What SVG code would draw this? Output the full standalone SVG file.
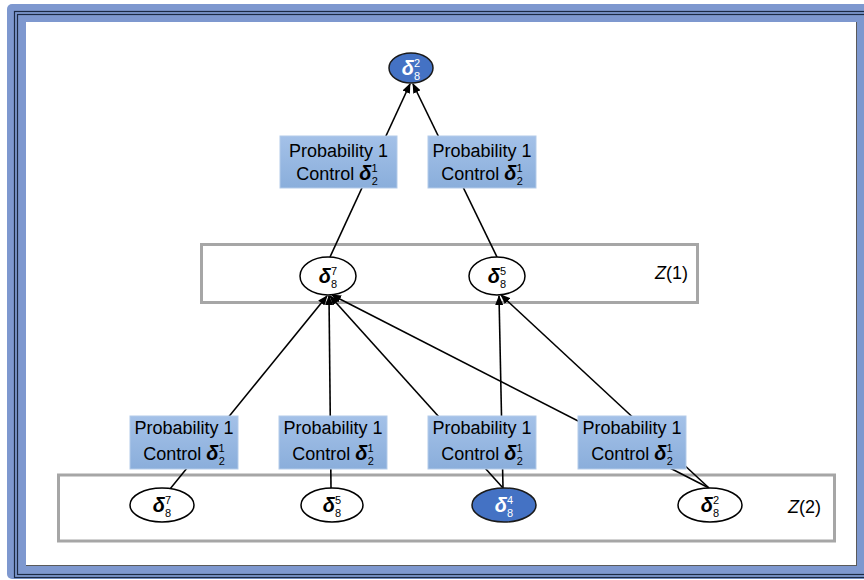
<svg xmlns="http://www.w3.org/2000/svg" width="864" height="580" viewBox="0 0 864 580">
<defs>
<linearGradient id="bg" x1="0" y1="0" x2="0" y2="1">
<stop offset="0" stop-color="#a4c1e8"/>
<stop offset="1" stop-color="#8aaedb"/>
</linearGradient>
<marker id="ah" markerWidth="10" markerHeight="8" refX="9" refY="4" orient="auto" markerUnits="userSpaceOnUse">
<path d="M0,0 L10,4 L0,8 Z" fill="#000"/>
</marker>
<style>
.zone{fill:none;stroke:#a6a6a6;stroke-width:3}
.box{fill:url(#bg);stroke:#b3cbe9;stroke-width:1}
.bt{font-family:"Liberation Sans",Arial,sans-serif;font-size:18px;fill:#000}
.d{font-weight:bold;font-style:italic;font-size:20px}
.s{font-size:11px}
.node{fill:#fff;stroke:#000;stroke-width:1.5}
.nodeb{fill:#4472c4;stroke:#1a1a1a;stroke-width:1.5}
.nt{font-family:"Liberation Sans",Arial,sans-serif;font-size:20px;fill:#000}
.ntw{fill:#fff}
.edge{stroke:#000;stroke-width:1.6;fill:none;marker-end:url(#ah)}
.zl{font-family:"Liberation Sans",Arial,sans-serif;font-size:18px;fill:#000}
</style>
</defs>
<!-- frame -->
<rect x="7" y="4" width="880" height="575" rx="5" fill="#7e98cf"/>
<rect x="14.5" y="11.5" width="880" height="566" fill="none" stroke="#1c2a44" stroke-width="1.2"/>
<rect x="17.5" y="14.5" width="880" height="560" fill="none" stroke="#1c2a44" stroke-width="1.2"/>
<rect x="26" y="22" width="831" height="544" fill="#5a5a5a"/>
<rect x="26" y="22" width="830" height="543" fill="#fff"/>
<!-- zones -->
<rect class="zone" x="201.5" y="244.5" width="496" height="58"/>
<rect class="zone" x="58.5" y="475" width="776" height="66"/>
<text class="zl" x="655" y="279"><tspan font-style="italic">Z</tspan>(1)</text>
<text class="zl" x="788" y="513"><tspan font-style="italic">Z</tspan>(2)</text>
<!-- connectors -->
<g id="connectors">
<line class="edge" x1="330" y1="257" x2="410" y2="84"/>
<line class="edge" x1="497" y1="257" x2="413" y2="84"/>
<line class="edge" x1="170" y1="489" x2="327" y2="296"/>
<line class="edge" x1="331" y1="488" x2="329" y2="296"/>
<line class="edge" x1="503" y1="488" x2="330" y2="296"/>
<line class="edge" x1="503" y1="488" x2="499" y2="296"/>
<line class="edge" x1="709" y1="488" x2="332" y2="295"/>
<line class="edge" x1="709" y1="488" x2="501" y2="295"/>
</g>
<!-- label boxes -->
<g id="lbl_t1">
<rect class="box" x="280" y="136" width="117" height="52"/>
<text class="bt" x="338.5" y="157" text-anchor="middle">Probability 1</text>
<text class="bt" x="337" y="180" text-anchor="middle">Control <tspan class="d">δ</tspan><tspan class="s" dy="-8">1</tspan><tspan class="s" dx="-6" dy="13">2</tspan></text>
</g>
<g id="lbl_t2">
<rect class="box" x="428" y="136" width="108" height="52"/>
<text class="bt" x="482" y="157" text-anchor="middle">Probability 1</text>
<text class="bt" x="482" y="180" text-anchor="middle">Control <tspan class="d">δ</tspan><tspan class="s" dy="-8">1</tspan><tspan class="s" dx="-6" dy="13">2</tspan></text>
</g>
<g id="lbl_b1">
<rect class="box" x="130" y="416" width="108" height="53"/>
<text class="bt" x="184" y="434" text-anchor="middle">Probability 1</text>
<text class="bt" x="184" y="460" text-anchor="middle">Control <tspan class="d">δ</tspan><tspan class="s" dy="-8">1</tspan><tspan class="s" dx="-6" dy="13">2</tspan></text>
</g>
<g id="lbl_b2">
<rect class="box" x="279" y="416" width="108" height="53"/>
<text class="bt" x="333" y="434" text-anchor="middle">Probability 1</text>
<text class="bt" x="333" y="460" text-anchor="middle">Control <tspan class="d">δ</tspan><tspan class="s" dy="-8">1</tspan><tspan class="s" dx="-6" dy="13">2</tspan></text>
</g>
<g id="lbl_b3">
<rect class="box" x="428" y="416" width="108" height="53"/>
<text class="bt" x="482" y="434" text-anchor="middle">Probability 1</text>
<text class="bt" x="482" y="460" text-anchor="middle">Control <tspan class="d">δ</tspan><tspan class="s" dy="-8">1</tspan><tspan class="s" dx="-6" dy="13">2</tspan></text>
</g>
<g id="lbl_b4">
<rect class="box" x="578" y="416" width="108" height="53"/>
<text class="bt" x="632" y="434" text-anchor="middle">Probability 1</text>
<text class="bt" x="632" y="460" text-anchor="middle">Control <tspan class="d">δ</tspan><tspan class="s" dy="-8">1</tspan><tspan class="s" dx="-6" dy="13">2</tspan></text>
</g>
<!-- nodes -->
<g id="n_top">
<ellipse class="nodeb" cx="411" cy="68" rx="22" ry="15"/>
<text class="nt ntw" x="411" y="75" text-anchor="middle"><tspan class="d">δ</tspan><tspan class="s" dy="-8">2</tspan><tspan class="s" dx="-6" dy="13">8</tspan></text>
</g>
<g id="n_z1_7">
<ellipse class="node" cx="328" cy="276" rx="28" ry="19"/>
<text class="nt" x="328" y="283" text-anchor="middle"><tspan class="d">δ</tspan><tspan class="s" dy="-8">7</tspan><tspan class="s" dx="-6" dy="13">8</tspan></text>
</g>
<g id="n_z1_5">
<ellipse class="node" cx="497" cy="276" rx="28" ry="19"/>
<text class="nt" x="497" y="283" text-anchor="middle"><tspan class="d">δ</tspan><tspan class="s" dy="-8">5</tspan><tspan class="s" dx="-6" dy="13">8</tspan></text>
</g>
<g id="n_z2_7">
<ellipse class="node" cx="162" cy="505" rx="32" ry="17"/>
<text class="nt" x="162" y="512" text-anchor="middle"><tspan class="d">δ</tspan><tspan class="s" dy="-8">7</tspan><tspan class="s" dx="-6" dy="13">8</tspan></text>
</g>
<g id="n_z2_5">
<ellipse class="node" cx="332" cy="505" rx="31" ry="17"/>
<text class="nt" x="332" y="512" text-anchor="middle"><tspan class="d">δ</tspan><tspan class="s" dy="-8">5</tspan><tspan class="s" dx="-6" dy="13">8</tspan></text>
</g>
<g id="n_z2_4">
<ellipse class="nodeb" cx="504" cy="505" rx="32" ry="17"/>
<text class="nt ntw" x="504" y="512" text-anchor="middle"><tspan class="d">δ</tspan><tspan class="s" dy="-8">4</tspan><tspan class="s" dx="-6" dy="13">8</tspan></text>
</g>
<g id="n_z2_2">
<ellipse class="node" cx="710" cy="505" rx="32" ry="17"/>
<text class="nt" x="710" y="512" text-anchor="middle"><tspan class="d">δ</tspan><tspan class="s" dy="-8">2</tspan><tspan class="s" dx="-6" dy="13">8</tspan></text>
</g>
</svg>
